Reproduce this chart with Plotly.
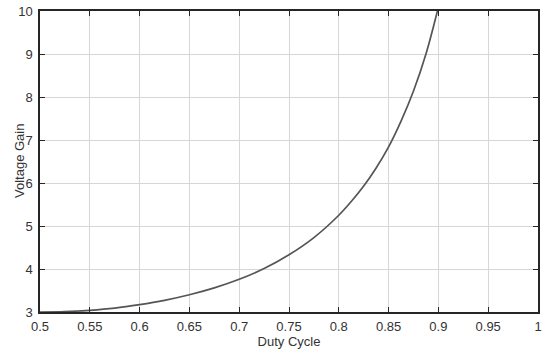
import plotly.graph_objects as go

# values
duty = [0.5, 0.525, 0.55, 0.575, 0.6, 0.625, 0.65, 0.675, 0.7, 0.725,
        0.75, 0.775, 0.8, 0.8125, 0.825, 0.8375, 0.85, 0.8625, 0.875, 0.8875, 0.899]
gain = [3.0, 3.01, 3.04, 3.09, 3.17, 3.27, 3.40, 3.56, 3.76, 4.01,
        4.33, 4.73, 5.25, 5.57, 5.93, 6.35, 6.84, 7.44, 8.14, 9.0, 10.0]

x_ticks = [0.5, 0.55, 0.6, 0.65, 0.7, 0.75, 0.8, 0.85, 0.9, 0.95, 1]
x_labels = ["0.5", "0.55", "0.6", "0.65", "0.7", "0.75", "0.8", "0.85", "0.9", "0.95", "1"]
y_ticks = [3, 4, 5, 6, 7, 8, 9, 10]

FONT = "Liberation Sans, Arial"
INK = "#262626"

fig = go.Figure()
fig.add_trace(go.Scatter(x=duty, y=gain, mode="lines",
                         line=dict(color="#555555", width=1.7, shape="spline", smoothing=1.0),
                         showlegend=False, hoverinfo="skip"))

axis_common = dict(
    showline=True, linecolor=INK, linewidth=1.5, mirror="ticks",
    ticks="inside", ticklen=5, tickwidth=1.3, tickcolor=INK,
    showgrid=True, gridcolor="#d6d6d6", gridwidth=1,
    zeroline=False, automargin=False, ticklabeloverflow="allow",
    tickfont=dict(family=FONT, size=13, color="#333333"),
)

fig.update_xaxes(range=[0.5, 1], tickvals=x_ticks, ticktext=x_labels,
                 ticklabelstandoff=2,
                 title=dict(text="Duty Cycle", standoff=2,
                            font=dict(family=FONT, size=13, color="#333333")),
                 **axis_common)
fig.update_yaxes(range=[3, 10], tickvals=y_ticks, ticklabelstandoff=3, **axis_common)

# y title as annotation so it sits tight against the tick labels
fig.add_annotation(text="Voltage Gain", xref="paper", yref="paper",
                   x=0, y=0.5, xshift=-30, textangle=-90, showarrow=False,
                   font=dict(family=FONT, size=13, color="#333333"))

fig.update_layout(
    width=550, height=355,
    margin=dict(l=40, r=12, t=11, b=43),
    plot_bgcolor="white", paper_bgcolor="white",
)

# drop the default page margin so the figure sits at the window's corner
fig.write_html("out.html", config={"displayModeBar": False},
               post_script="document.body.style.margin='0';")
